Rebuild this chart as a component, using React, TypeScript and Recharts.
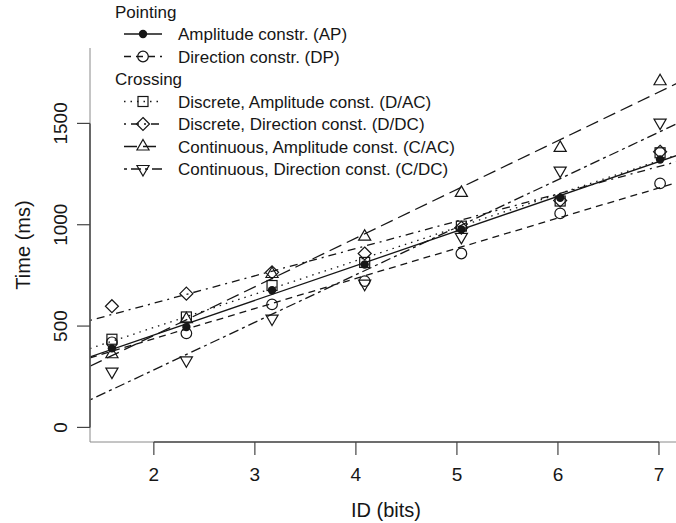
import React from 'react';
import { ComposedChart, Line, Scatter, XAxis, YAxis, ReferenceLine, Label } from 'recharts';

// ID = log2(D/W + 1) for the seven conditions
const ID_BITS = [1.585, 2.322, 3.17, 4.087, 5.044, 6.022, 7.011];

// mean movement time (ms) per condition
const AP_TIMES = [390, 495, 677, 804, 977, 1133, 1322];
const DP_TIMES = [420, 464, 607, 722, 858, 1056, 1204];
const DAC_TIMES = [435, 545, 700, 814, 993, 1117, 1355];
const DDC_TIMES = [598, 660, 765, 858, 985, 1120, 1360];
const CAC_TIMES = [361, 534, 757, 941, 1157, 1379, 1708];
const CDC_TIMES = [275, 331, 537, 709, 940, 1267, 1504];

const X_TICKS = [2, 3, 4, 5, 6, 7];
const Y_TICKS = [0, 500, 1000, 1500];
const X_DOMAIN: [number, number] = [1.368, 7.228];
const Y_DOMAIN: [number, number] = [-72, 1872];

type MarkerKind = 'dot' | 'circle' | 'square' | 'diamond' | 'up' | 'down';

const SERIES = [
  { key: 'ap', group: 'Pointing', name: 'Amplitude constr. (AP)', values: AP_TIMES, marker: 'dot' as MarkerKind, dash: undefined },
  { key: 'dp', group: 'Pointing', name: 'Direction constr. (DP)', values: DP_TIMES, marker: 'circle' as MarkerKind, dash: '7 5' },
  { key: 'dac', group: 'Crossing', name: 'Discrete, Amplitude const. (D/AC)', values: DAC_TIMES, marker: 'square' as MarkerKind, dash: '1.5 5' },
  { key: 'ddc', group: 'Crossing', name: 'Discrete, Direction const. (D/DC)', values: DDC_TIMES, marker: 'diamond' as MarkerKind, dash: '2 5 8 5' },
  { key: 'cac', group: 'Crossing', name: 'Continuous, Amplitude const. (C/AC)', values: CAC_TIMES, marker: 'up' as MarkerKind, dash: '13 6' },
  { key: 'cdc', group: 'Crossing', name: 'Continuous, Direction const. (C/DC)', values: CDC_TIMES, marker: 'down' as MarkerKind, dash: '3 4 10 4' },
];

const INK = '#161616';
const FONT = '"Liberation Sans", Arial, sans-serif';

// least squares line, like abline(lm(y ~ x))
function fit(xs: number[], ys: number[]) {
  const n = xs.length;
  const mx = xs.reduce((s, v) => s + v, 0) / n;
  const my = ys.reduce((s, v) => s + v, 0) / n;
  let sxy = 0;
  let sxx = 0;
  for (let i = 0; i < n; i++) {
    sxy += (xs[i] - mx) * (ys[i] - my);
    sxx += (xs[i] - mx) * (xs[i] - mx);
  }
  const b = sxy / sxx;
  return { a: my - b * mx, b };
}

function drawMarker(kind: MarkerKind, cx: number, cy: number) {
  const s = { fill: 'none', stroke: INK, strokeWidth: 1.2 };
  switch (kind) {
    case 'dot':
      return <circle cx={cx} cy={cy} r={4.2} fill={INK} />;
    case 'circle':
      return <circle cx={cx} cy={cy} r={5.3} {...s} />;
    case 'square':
      return <rect x={cx - 5} y={cy - 5} width={10} height={10} {...s} />;
    case 'diamond': {
      const r = 6.5;
      return <polygon points={`${cx},${cy - r} ${cx + r},${cy} ${cx},${cy + r} ${cx - r},${cy}`} {...s} />;
    }
    case 'up': {
      const r = 7;
      return <polygon points={`${cx},${cy - r} ${cx + 0.866 * r},${cy + r / 2} ${cx - 0.866 * r},${cy + r / 2}`} {...s} />;
    }
    default: {
      const r = 7;
      return <polygon points={`${cx},${cy + r} ${cx + 0.866 * r},${cy - r / 2} ${cx - 0.866 * r},${cy - r / 2}`} {...s} />;
    }
  }
}

const XTick = ({ x, y, payload }: any) => (
  <text x={x} y={y + 24} textAnchor="middle" fontSize={19} fill={INK} fontFamily={FONT}>
    {payload.value}
  </text>
);

const YTick = ({ x, y, payload }: any) => (
  <text x={x - 8} y={y} transform={`rotate(-90 ${x - 8} ${y})`} textAnchor="middle" fontSize={19} fill={INK} fontFamily={FONT}>
    {payload.value}
  </text>
);

const XTitle = ({ viewBox }: any) => {
  const vb = viewBox || { x: 90, y: 442, width: 592, height: 81 };
  return (
    <text x={vb.x + vb.width / 2} y={vb.y + vb.height - 6} textAnchor="middle" fontSize={20} fill={INK} fontFamily={FONT}>
      ID (bits)
    </text>
  );
};

const YTitle = ({ viewBox }: any) => {
  const vb = viewBox || { x: 0, y: 48, width: 90, height: 394 };
  const cy = vb.y + vb.height / 2;
  return (
    <text x={30} y={cy} transform={`rotate(-90 30 ${cy})`} textAnchor="middle" fontSize={20} fill={INK} fontFamily={FONT}>
      Time (ms)
    </text>
  );
};

function LegendBox() {
  const rows: any[] = [];
  let lastGroup = '';
  SERIES.forEach((s) => {
    if (s.group !== lastGroup) {
      rows.push({ header: s.group });
      lastGroup = s.group;
    }
    rows.push(s);
  });
  return (
    <svg width={676} height={200} style={{ position: 'absolute', left: 0, top: 0, pointerEvents: 'none' }}>
      {rows.map((r, i) => {
        const cy = 11.5 + i * 22.5;
        if (r.header) {
          return (
            <text key={r.header} x={115} y={cy + 6} fontSize={17} fill={INK} fontFamily={FONT}>
              {r.header}
            </text>
          );
        }
        return (
          <g key={r.key}>
            <line x1={124} x2={162} y1={cy} y2={cy} stroke={INK} strokeWidth={1.3} strokeDasharray={r.dash} />
            {drawMarker(r.marker, 143, cy)}
            <text x={178} y={cy + 6} fontSize={17} fill={INK} fontFamily={FONT}>
              {r.name}
            </text>
          </g>
        );
      })}
    </svg>
  );
}

export default function App() {
  return (
    <div style={{ position: 'absolute', left: 0, top: 0, width: 676, height: 523, overflow: 'hidden', background: '#fff' }}>
      <ComposedChart width={700} height={523} margin={{ top: 48, right: 18, bottom: 0, left: 0 }}>
        <XAxis
          type="number"
          dataKey="x"
          domain={X_DOMAIN}
          ticks={X_TICKS}
          allowDataOverflow
          height={81}
          tickSize={13}
          axisLine={{ stroke: '#8a8a8a', strokeWidth: 1 }}
          tickLine={{ stroke: '#444', strokeWidth: 1.2 }}
          tick={<XTick />}
        >
          <Label content={<XTitle />} />
        </XAxis>
        <YAxis
          type="number"
          dataKey="y"
          domain={Y_DOMAIN}
          ticks={Y_TICKS}
          allowDataOverflow
          width={90}
          tickSize={13}
          axisLine={{ stroke: '#8a8a8a', strokeWidth: 1 }}
          tickLine={{ stroke: '#444', strokeWidth: 1.2 }}
          tick={<YTick />}
        >
          <Label content={<YTitle />} />
        </YAxis>
        <ReferenceLine
          segment={[{ x: X_TICKS[0], y: Y_DOMAIN[0] }, { x: X_TICKS[X_TICKS.length - 1], y: Y_DOMAIN[0] }]}
          stroke={INK}
          strokeWidth={1.6}
          ifOverflow="visible"
        />
        <ReferenceLine
          segment={[{ x: X_DOMAIN[0], y: Y_TICKS[0] }, { x: X_DOMAIN[0], y: Y_TICKS[Y_TICKS.length - 1] }]}
          stroke={INK}
          strokeWidth={1.6}
          ifOverflow="visible"
        />
        {SERIES.map((s) => {
          const { a, b } = fit(ID_BITS, s.values);
          const lineData = X_DOMAIN.map((x) => ({ x, y: a + b * x }));
          return (
            <Line
              key={s.key + '-fit'}
              data={lineData}
              dataKey="y"
              type="linear"
              stroke={INK}
              strokeWidth={1.3}
              strokeDasharray={s.dash}
              dot={false}
              activeDot={false}
              isAnimationActive={false}
            />
          );
        })}
        {SERIES.map((s) => (
          <Scatter
            key={s.key}
            name={s.name}
            data={ID_BITS.map((x, i) => ({ x, y: s.values[i] }))}
            shape={(p: any) => drawMarker(s.marker, p.cx, p.cy)}
            isAnimationActive={false}
          />
        ))}
      </ComposedChart>
      <LegendBox />
    </div>
  );
}
